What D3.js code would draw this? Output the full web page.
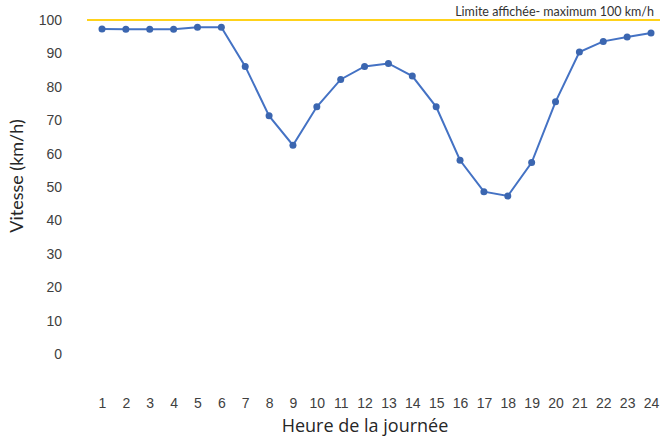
<!DOCTYPE html>
<html>
<head>
<meta charset="utf-8">
<script src="https://cdn.jsdelivr.net/npm/d3@7"></script>
<style>
  html, body { margin: 0; padding: 0; background: #ffffff; }
  svg { display: block; }
</style>
</head>
<body>
<svg id="chart" width="660" height="439"></svg>
<script>
// Hours of the day and the average speed measured for each hour
const hours = [1, 2, 3, 4, 5, 6, 7, 8, 9, 10, 11, 12, 13, 14, 15, 16, 17, 18, 19, 20, 21, 22, 23, 24];
const speeds = [97.3, 97.2, 97.2, 97.2, 97.8, 97.8, 86.1, 71.3, 62.5, 74.0, 82.2, 86.1, 87.0, 83.2, 74.0, 58.0, 48.6, 47.3, 57.3, 75.5, 90.4, 93.6, 94.9, 96.1];
const yTicks = [0, 10, 20, 30, 40, 50, 60, 70, 80, 90, 100];
const speedLimit = 100;
const limitLabel = "Limite affichée- maximum 100 km/h";
const xTitle = "Heure de la journée";
const yTitle = "Vitesse (km/h)";

const svg = d3.select("#chart");

const x = d3.scalePoint().domain(hours).range([102, 651]);
const y = d3.scaleLinear().domain([0, 100]).range([354, 20]);

// Y axis: labels only
const yAxis = svg.append("g")
  .attr("transform", "translate(62,0)")
  .call(d3.axisLeft(y).tickValues(yTicks).tickSize(0).tickPadding(0));
yAxis.select(".domain").remove();
yAxis.selectAll("text")
  .attr("font-family", "Liberation Sans, Arial, sans-serif")
  .attr("font-size", 14)
  .attr("fill", "#404040");

// X axis: labels only, below the plot
const xAxis = svg.append("g")
  .attr("transform", "translate(0,398)")
  .call(d3.axisBottom(x).tickSize(0).tickPadding(0));
xAxis.select(".domain").remove();
xAxis.selectAll("text")
  .attr("font-family", "Liberation Sans, Arial, sans-serif")
  .attr("font-size", 14)
  .attr("fill", "#404040");

// Posted speed limit
svg.append("line")
  .attr("x1", 87).attr("x2", 660)
  .attr("y1", y(speedLimit)).attr("y2", y(speedLimit))
  .attr("stroke", "#ffd21a")
  .attr("stroke-width", 2);

svg.append("text")
  .attr("x", 654).attr("y", y(speedLimit) - 4)
  .attr("text-anchor", "end")
  .attr("font-family", "Lato, Open Sans, sans-serif")
  .attr("font-size", 12.5)
  .attr("fill", "#333333")
  .text(limitLabel);

// Speed line and markers
const line = d3.line()
  .x((d, i) => x(hours[i]))
  .y(d => y(d));

svg.append("path")
  .datum(speeds)
  .attr("d", line)
  .attr("fill", "none")
  .attr("stroke", "#4472c4")
  .attr("stroke-width", 2);

svg.append("g")
  .selectAll("circle")
  .data(speeds)
  .join("circle")
  .attr("cx", (d, i) => x(hours[i]))
  .attr("cy", d => y(d))
  .attr("r", 3.5)
  .attr("fill", "#3b66b0");

// Axis titles
svg.append("text")
  .attr("x", 365).attr("y", 432)
  .attr("text-anchor", "middle")
  .attr("font-family", "Open Sans, Lato, sans-serif")
  .attr("font-size", 18)
  .attr("fill", "#262626")
  .text(xTitle);

svg.append("text")
  .attr("transform", "translate(23,176) rotate(-90)")
  .attr("text-anchor", "middle")
  .attr("font-family", "Lato, Open Sans, sans-serif")
  .attr("font-size", 18)
  .attr("fill", "#262626")
  .text(yTitle);
</script>
</body>
</html>
